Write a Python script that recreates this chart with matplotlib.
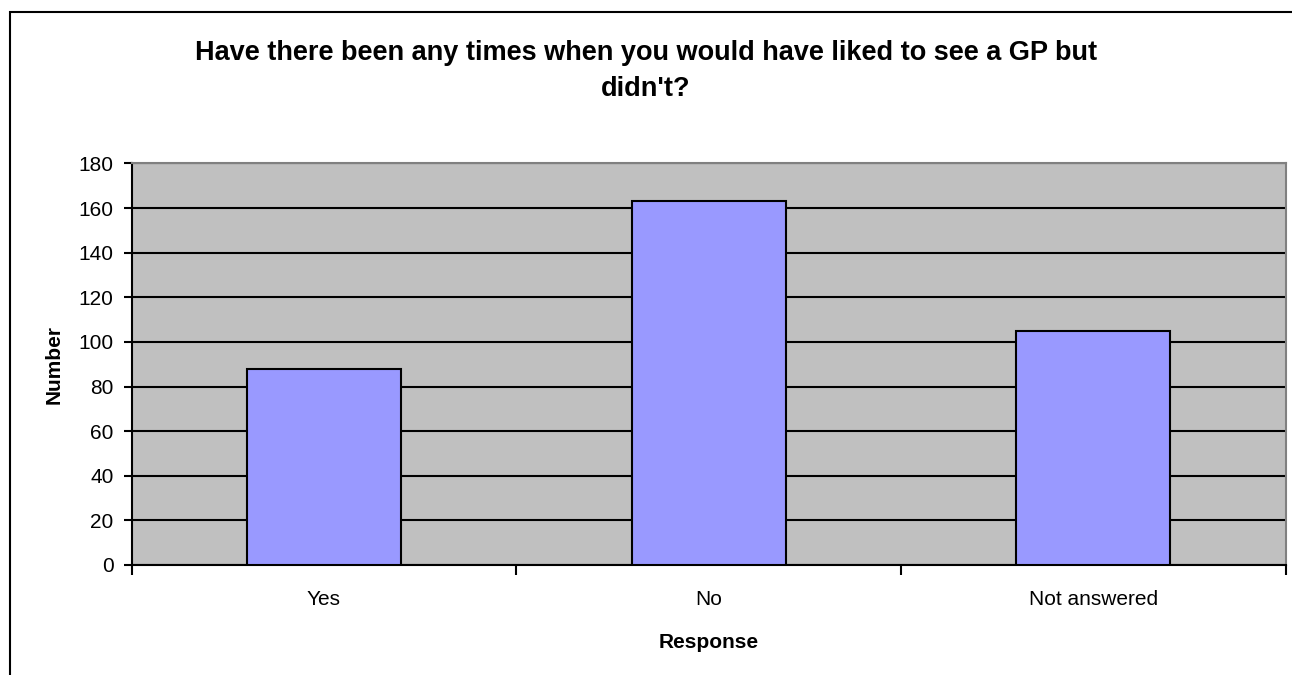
import matplotlib.pyplot as plt
import numpy as np
from matplotlib.patches import Rectangle

plt.rcParams['font.family'] = ['Liberation Sans', 'DejaVu Sans']

# survey answers
responses = ['Yes', 'No', 'Not answered']
counts = [88, 163, 105]
yticks = [0, 20, 40, 60, 80, 100, 120, 140, 160, 180]

fig = plt.figure(figsize=(12.92, 6.75), dpi=100)
ax = fig.add_axes([0.1019, 0.163, 0.8932, 0.5948])

# chart area border (runs off the right and bottom edges)
fig.patches.append(Rectangle((10 / 1292, -0.05), 1.1, 1 - 12 / 675 + 0.05,
                             transform=fig.transFigure, fill=False,
                             edgecolor='black', linewidth=1.5))

x = np.arange(len(responses))
ax.set_facecolor('#C0C0C0')
ax.bar(x, counts, width=0.4, color='#9999FF', edgecolor='black',
       linewidth=1.5, zorder=3)

ax.set_xlim(-0.5, len(responses) - 0.5)
ax.set_ylim(0, 180)
ax.set_yticks(yticks)
ax.yaxis.grid(True, color='black', linewidth=1.5, zorder=1)
ax.set_axisbelow(True)

ax.set_xticks(x)
ax.set_xticklabels(responses, fontsize=15)
ax.set_xticks(np.arange(-0.5, len(responses)), minor=True)
ax.tick_params(axis='x', which='major', length=0, pad=18)
ax.tick_params(axis='x', which='minor', length=7, width=1.5, direction='out')
ax.tick_params(axis='y', length=6, width=1.5, labelsize=15, pad=7)

for side in ['left', 'bottom']:
    ax.spines[side].set_linewidth(1.5)
    ax.spines[side].set_color('black')
for side in ['top', 'right']:
    ax.spines[side].set_linewidth(1.5)
    ax.spines[side].set_color('#808080')

ax.set_xlabel('Response', fontsize=15, fontweight='bold', labelpad=17)
ax.set_ylabel('Number', fontsize=15, fontweight='bold', labelpad=11)

fig.text(0.5, 0.94, "Have there been any times when you would have liked to see a GP but\ndidn't?",
         ha='center', va='top', fontsize=19.5, fontweight='bold', linespacing=1.45)

plt.savefig('out.png')
